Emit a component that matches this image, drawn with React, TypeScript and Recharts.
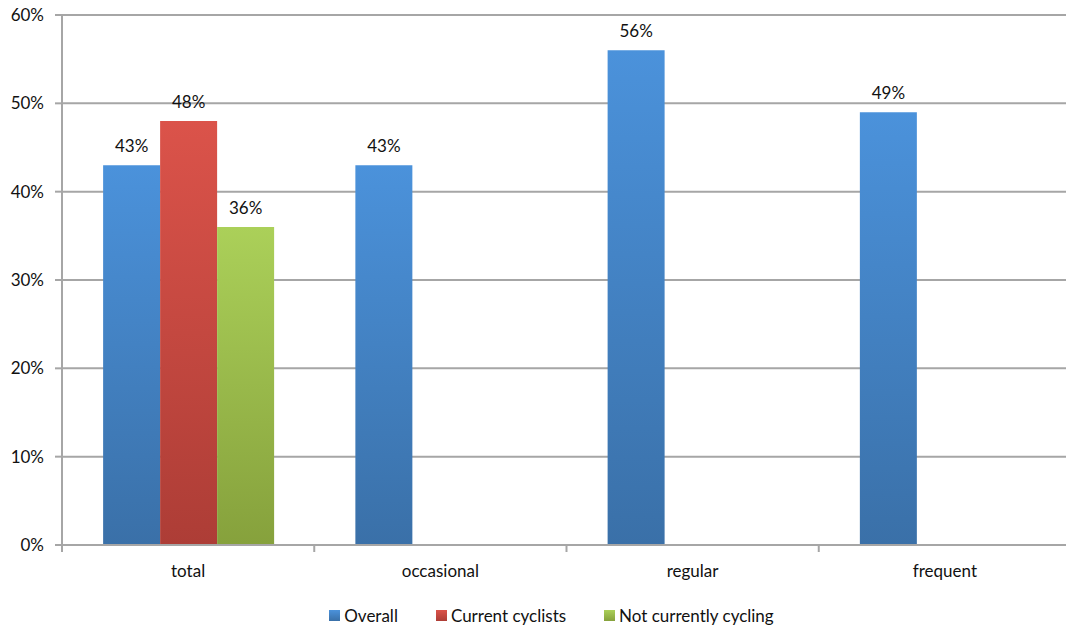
import { BarChart, Bar, XAxis, YAxis, CartesianGrid, Legend, LabelList } from "recharts";

const categories = ["total", "occasional", "regular", "frequent"];
const overall = [43, 43, 56, 49];
const currentCyclists: (number | null)[] = [48, null, null, null];
const notCycling: (number | null)[] = [36, null, null, null];
const yTicks = [0, 10, 20, 30, 40, 50, 60];

const series = [
  { key: "overall", name: "Overall", top: "#4b92db", bottom: "#3a70a8" },
  { key: "current", name: "Current cyclists", top: "#db534a", bottom: "#ad3d36" },
  { key: "notCycling", name: "Not currently cycling", top: "#abd059", bottom: "#86a13c" },
];

const data = categories.map((name, i) => ({
  name,
  overall: overall[i],
  current: currentCyclists[i],
  notCycling: notCycling[i],
}));

const WIDTH = 1075;
const HEIGHT = 628;
const Y_AXIS_W = 62;
const MARGIN_RIGHT = 4;
const TICK_SIZE = 7;
const TICK_MARGIN = 12;
const FONT = "Lato, 'Open Sans', sans-serif";
const FONT_SIZE = 17;
const GRID = "#a6a6a6";

const bandWidth = (WIDTH - Y_AXIS_W - MARGIN_RIGHT) / categories.length;

// category label at the band centre, tick mark on the band's left edge
function CategoryTick(props: any) {
  const { x, y, payload } = props;
  const axisY = y - TICK_SIZE - TICK_MARGIN;
  const left = x - bandWidth / 2;
  return (
    <g>
      <line x1={left} x2={left} y1={axisY} y2={axisY + TICK_SIZE} stroke={GRID} strokeWidth={2} />
      <text x={x} y={y + 1} dy="0.71em" textAnchor="middle" fontSize={FONT_SIZE} fill="#111" fontFamily={FONT}>
        {payload.value}
      </text>
    </g>
  );
}

function LegendRow() {
  return (
    <div
      style={{
        display: "flex",
        justifyContent: "center",
        alignItems: "center",
        gap: 38,
        fontFamily: FONT,
        fontSize: FONT_SIZE,
        color: "#111",
        paddingTop: 20,
        paddingLeft: 32,
      }}
    >
      {series.map((s) => (
        <div key={s.key} style={{ display: "flex", alignItems: "center", gap: 4 }}>
          <span
            style={{
              width: 11,
              height: 11,
              display: "inline-block",
              background: `linear-gradient(${s.top}, ${s.bottom})`,
            }}
          />
          <span>{s.name}</span>
        </div>
      ))}
    </div>
  );
}

const pct = (v: any) => (v == null ? "" : `${v}%`);

export default function App() {
  return (
    <div style={{ position: "absolute", left: 0, top: 0, width: 1066, height: 628, overflow: "hidden", background: "#fff" }}>
      <BarChart
        width={WIDTH}
        height={HEIGHT}
        data={data}
        margin={{ top: 15, right: MARGIN_RIGHT, left: 0, bottom: 0 }}
        barCategoryGap="16.3%"
        barGap={0}
      >
        <defs>
          {series.map((s) => (
            <linearGradient key={s.key} id={`grad-${s.key}`} x1="0" y1="0" x2="0" y2="1">
              <stop offset="0%" stopColor={s.top} />
              <stop offset="100%" stopColor={s.bottom} />
            </linearGradient>
          ))}
        </defs>
        <CartesianGrid vertical={false} stroke={GRID} strokeWidth={2} />
        <XAxis
          dataKey="name"
          height={40}
          axisLine={{ stroke: GRID, strokeWidth: 2 }}
          tickLine={false}
          tickSize={TICK_SIZE}
          tickMargin={TICK_MARGIN}
          tick={<CategoryTick />}
          interval={0}
        />
        <YAxis
          width={Y_AXIS_W}
          domain={[0, 60]}
          ticks={yTicks}
          tickFormatter={(v) => `${v}%`}
          axisLine={{ stroke: GRID, strokeWidth: 2 }}
          tickLine={{ stroke: GRID, strokeWidth: 2 }}
          tickSize={TICK_SIZE}
          tickMargin={11}
          tick={{ fontSize: FONT_SIZE, fill: "#111", fontFamily: FONT }}
        />
        <Legend verticalAlign="bottom" height={43} content={<LegendRow />} />
        {series.map((s) => (
          <Bar key={s.key} dataKey={s.key} name={s.name} fill={`url(#grad-${s.key})`} isAnimationActive={false}>
            <LabelList
              dataKey={s.key}
              position="top"
              offset={13}
              formatter={pct}
              style={{ fontSize: FONT_SIZE, fill: "#111", fontFamily: FONT }}
            />
          </Bar>
        ))}
      </BarChart>
    </div>
  );
}
